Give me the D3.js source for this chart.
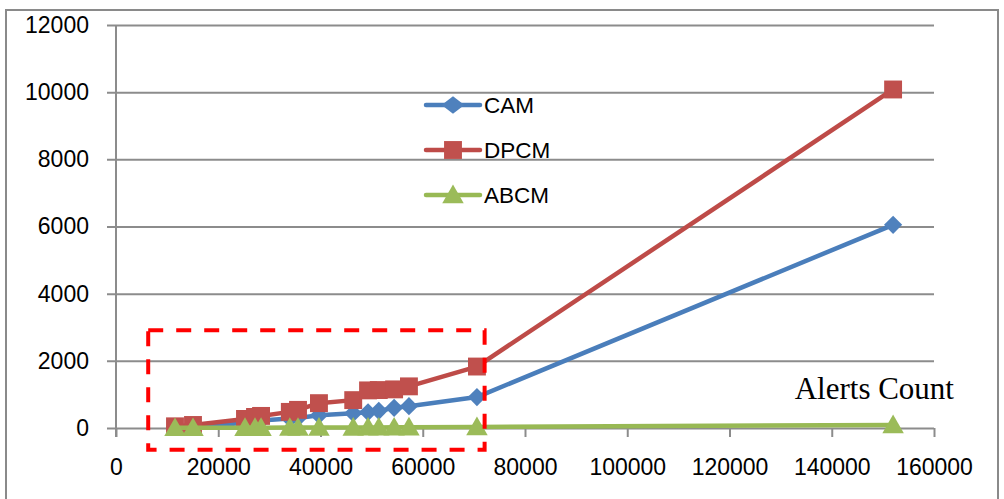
<!DOCTYPE html>
<html>
<head>
<meta charset="utf-8">
<script src="https://cdn.jsdelivr.net/npm/d3@7/dist/d3.min.js"></script>
<style>
  html, body { margin: 0; padding: 0; background: #fff; }
  svg { display: block; }
</style>
</head>
<body>
<svg id="chart" width="1004" height="499"></svg>
<script>
// ---- data ----
const alerts = [11540, 15060, 25230, 27190, 28370, 34000, 35600, 39700, 46400, 49300, 51400, 54400, 57300, 70600, 152000];
const cam    = [30, 50, 150, 200, 220, 280, 300, 380, 440, 470, 510, 600, 650, 920, 6050];
const dpcm   = [50, 90, 270, 330, 360, 480, 540, 740, 830, 1120, 1130, 1150, 1240, 1830, 10080];
const abcm   = [5, 6, 8, 9, 9, 12, 12, 14, 16, 18, 18, 20, 22, 30, 90];
const seriesNames = ["CAM", "DPCM", "ABCM"];
const xTicks = [0, 20000, 40000, 60000, 80000, 100000, 120000, 140000, 160000];
const yTicks = [0, 2000, 4000, 6000, 8000, 10000, 12000];
const xAxisTitle = "Alerts Count";
// highlight box (data units)
const boxX = [6300, 72100];
const boxY = [-650, 2910];

const svg = d3.select("#chart");

// outer frame
svg.append("rect").attr("x", 6).attr("y", 10).attr("width", 992).attr("height", 500)
  .attr("fill", "#fff").attr("stroke", "#8a8a8a").attr("stroke-width", 2);

const x = d3.scaleLinear().domain([0, 160000]).range([116, 934]);
const y = d3.scaleLinear().domain([0, 12000]).range([428, 25]);

const gridColor = "#8c8c8c";
const font = "'Liberation Sans', Arial, sans-serif";

// horizontal gridlines + y axis
const gy = svg.append("g").attr("transform", `translate(${x.range()[1]},0)`);
gy.call(d3.axisLeft(y).tickValues(yTicks).tickSize(x.range()[1] - 107).tickPadding(18).tickFormat(d3.format("d")));
gy.select(".domain").remove();
gy.selectAll(".tick line").attr("stroke", gridColor).attr("stroke-width", 2);
gy.selectAll(".tick text").attr("font-family", font).attr("font-size", 23).attr("fill", "#000");

// vertical axis line
svg.append("line").attr("x1", x(0)).attr("x2", x(0)).attr("y1", y(12000)).attr("y2", y(0) + 9)
  .attr("stroke", gridColor).attr("stroke-width", 2);

// x axis
const gx = svg.append("g").attr("transform", `translate(0,${y(0)})`);
gx.call(d3.axisBottom(x).tickValues(xTicks).tickSize(9).tickPadding(22).tickFormat(d3.format("d")));
gx.select(".domain").remove();
gx.selectAll(".tick line").attr("stroke", gridColor).attr("stroke-width", 2);
gx.selectAll(".tick text").attr("font-family", font).attr("font-size", 23).attr("fill", "#000");

// series
const series = [
  { name: seriesNames[0], vals: cam,  line: "#4a7ebb", fill: "#4f81bd", shape: "diamond" },
  { name: seriesNames[1], vals: dpcm, line: "#be4b48", fill: "#c0504d", shape: "square" },
  { name: seriesNames[2], vals: abcm, line: "#98b954", fill: "#9bbb59", shape: "triangle" }
];

function markerPath(shape) {
  if (shape === "diamond") return d3.symbol().type(d3.symbolSquare).size(165)();
  if (shape === "square") return d3.symbol().type(d3.symbolSquare).size(320)();
  return d3.symbol().type(d3.symbolTriangle).size(200)();
}
function markerTransform(shape, px, py) {
  if (shape === "diamond") return `translate(${px},${py}) rotate(45)`;
  if (shape === "triangle") return `translate(${px},${py + 2})`;
  return `translate(${px},${py})`;
}

const lineGen = d3.line().x(d => x(d[0])).y(d => y(d[1]));
series.forEach(s => {
  const pts = alerts.map((a, k) => [a, s.vals[k]]);
  svg.append("path").datum(pts).attr("d", lineGen)
    .attr("fill", "none").attr("stroke", s.line).attr("stroke-width", 4.5).attr("stroke-linejoin", "round");
  svg.append("g").selectAll("path").data(pts).join("path")
    .attr("transform", d => markerTransform(s.shape, x(d[0]), y(d[1])))
    .attr("d", markerPath(s.shape))
    .attr("fill", s.fill);
});

// legend
const legX0 = 426, legX1 = 480, legTextX = 484;
const legY = [105, 150, 195];
series.forEach((s, i) => {
  const g = svg.append("g");
  g.append("line").attr("x1", legX0).attr("x2", legX1).attr("y1", legY[i]).attr("y2", legY[i])
    .attr("stroke", s.line).attr("stroke-width", 4.5).attr("stroke-linecap", "round");
  g.append("path")
    .attr("transform", s.shape === "diamond"
      ? `translate(${(legX0 + legX1) / 2},${legY[i]}) scale(1.25,0.95) rotate(45)`
      : markerTransform(s.shape, (legX0 + legX1) / 2, legY[i]))
    .attr("d", markerPath(s.shape)).attr("fill", s.fill);
  g.append("text").attr("x", legTextX).attr("y", legY[i]).attr("dy", "0.35em")
    .attr("font-family", font).attr("font-size", 22.5).attr("fill", "#000").text(s.name);
});

// dashed highlight box
svg.append("rect")
  .attr("x", x(boxX[0])).attr("y", y(boxY[1]))
  .attr("width", x(boxX[1]) - x(boxX[0])).attr("height", y(boxY[0]) - y(boxY[1]))
  .attr("fill", "none").attr("stroke", "#ff0000").attr("stroke-width", 4)
  .attr("stroke-dasharray", "15 13");

// axis title
svg.append("text").attr("x", 954).attr("y", 399).attr("text-anchor", "end")
  .attr("font-family", "'Liberation Serif', 'Times New Roman', serif").attr("font-size", 31)
  .attr("fill", "#000").text(xAxisTitle);
</script>
</body>
</html>
